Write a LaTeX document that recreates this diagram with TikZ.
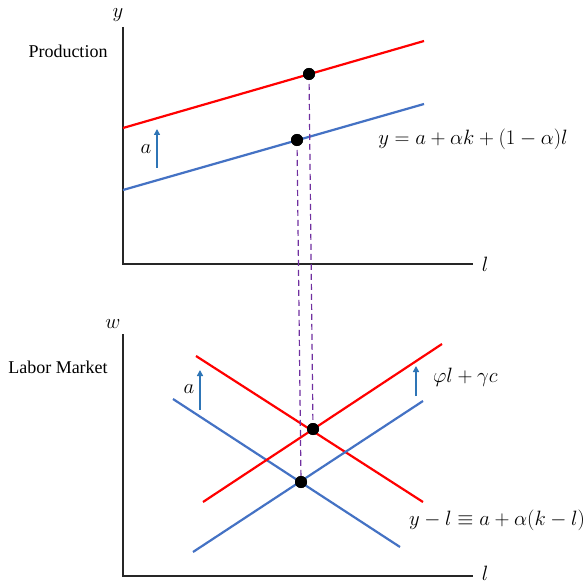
\documentclass[tikz,border=0pt]{standalone}
\usepackage{fontspec}
\setmainfont{Liberation Serif}
\usetikzlibrary{arrows.meta}
\definecolor{cred}{HTML}{FF0000}
\definecolor{cblue}{HTML}{4472C4}
\definecolor{carrow}{HTML}{2E75B6}
\definecolor{cpurple}{HTML}{7030A0}
\tikzset{
  axis/.style={line width=1.8pt, black!85},
  redline/.style={line width=2.2pt, cred},
  blueline/.style={line width=2.2pt, cblue},
  shiftarrow/.style={line width=1.5pt, carrow, -{Triangle[length=6pt,width=6pt]}},
  guide/.style={line width=1.2pt, cpurple, dash pattern=on 6pt off 4pt},
  dot/.style={circle, fill=black, inner sep=0pt, minimum size=12pt},
  lbl/.style={font=\fontsize{18}{21}\selectfont, inner sep=1pt},
  mlbl/.style={font=\fontsize{21.5}{25}\selectfont, inner sep=1pt},
}
\begin{document}
\begin{tikzpicture}[x=1pt,y=-1pt]
\useasboundingbox (0,0) rectangle (587,583);
% top axes
\coordinate (o1) at (123,264);
\coordinate (ytop) at (123,27);
\coordinate (xr1) at (473,264);
\draw[axis] (ytop) -- (o1) -- (xr1);
\node[mlbl] (ylab) at (118,15) {$y$};
\node[mlbl] (l1lab) at (485,264) {$l$};
\node[lbl] (prod) at (68,51) {Production};
% top lines
\coordinate (r1a) at (123,128); \coordinate (r1b) at (424,41);
\coordinate (b1a) at (123,190); \coordinate (b1b) at (424,104);
\draw[redline] (r1a) -- (r1b);
\draw[blueline] (b1a) -- (b1b);
\node[dot] (d1) at (309,74) {};
\node[dot] (d2) at (297,140) {};
\coordinate (ar1a) at (157,168); \coordinate (ar1b) at (157,129);
\draw[shiftarrow] (ar1a) -- (ar1b);
\node[mlbl] (a1) at (146,149) {$a$};
\node[mlbl] (eq1) at (473,139) {$y=a+\alpha k+(1-\alpha)l$};
% bottom axes
\coordinate (o2) at (123,576);
\coordinate (ytop2) at (123,334);
\coordinate (xr2) at (473,576);
\draw[axis] (ytop2) -- (o2) -- (xr2);
\node[mlbl] (wlab) at (113,324) {$w$};
\node[mlbl] (l2lab) at (485,573) {$l$};
\node[lbl] (labor) at (58,367) {Labor Market};
% bottom lines
\coordinate (rda) at (196,356); \coordinate (rdb) at (423,502);
\coordinate (bda) at (173,399); \coordinate (bdb) at (400,547);
\coordinate (rua) at (203,502); \coordinate (rub) at (442,344);
\coordinate (bua) at (193,552); \coordinate (bub) at (423,401);
\draw[redline] (rda) -- (rdb);
\draw[blueline] (bda) -- (bdb);
\draw[redline] (rua) -- (rub);
\draw[blueline] (bua) -- (bub);
\node[dot] (d3) at (313,429) {};
\node[dot] (d4) at (301,482) {};
\coordinate (ar2a) at (200,410); \coordinate (ar2b) at (200,370);
\draw[shiftarrow] (ar2a) -- (ar2b);
\node[mlbl] (a2) at (189,389) {$a$};
\coordinate (ar3a) at (416,396); \coordinate (ar3b) at (416,366);
\draw[shiftarrow] (ar3a) -- (ar3b);
\node[mlbl, anchor=west] (eq2) at (432,377) {$\varphi l+\gamma c$};
\node[mlbl, anchor=west] (eq3) at (408,520) {$y-l\equiv a+\alpha(k-l)$};
% guides
\draw[guide] (d1.center) -- (d3.center);
\draw[guide] (d2.center) -- (d4.center);
\node[dot] at (d1) {};
\node[dot] at (d2) {};
\node[dot] at (d3) {};
\node[dot] at (d4) {};
\end{tikzpicture}
\end{document}
